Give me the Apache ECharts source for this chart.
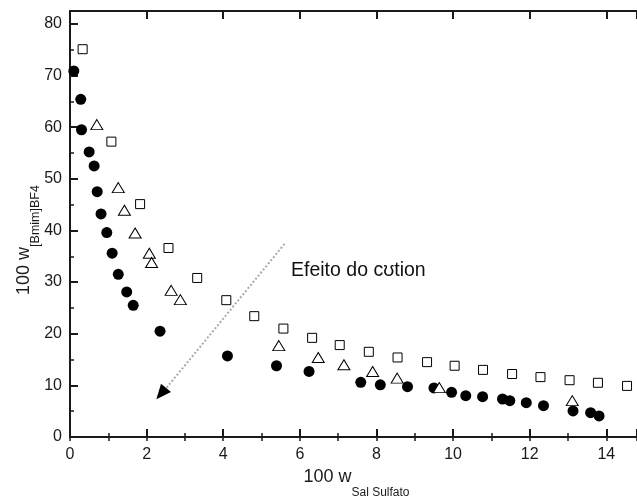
<!DOCTYPE html>
<html>
<head>
<meta charset="utf-8">
<script src="https://cdn.jsdelivr.net/npm/echarts@6/dist/echarts.min.js"></script>
<style>
  html, body { margin: 0; padding: 0; background: #fff; }
  #chart { width: 637px; height: 499px; }
</style>
</head>
<body>
<div id="chart"></div>
<script>
// filled circles
var circlesX = [0.10, 0.28, 0.30, 0.50, 0.63, 0.71, 0.81, 0.96, 1.10, 1.26, 1.48, 1.65, 2.35, 4.11, 5.39, 6.24,
                7.59, 8.10, 8.81, 9.50, 9.96, 10.33, 10.77, 11.29, 11.48, 11.91, 12.36, 13.13, 13.59, 13.81]
var circlesY = [70.9, 65.4, 59.5, 55.2, 52.5, 47.5, 43.2, 39.6, 35.6, 31.5, 28.1, 25.5, 20.5, 15.7, 13.8, 12.7,
                10.6, 10.1, 9.75, 9.5, 8.66, 8.0, 7.8, 7.36, 7.04, 6.65, 6.07, 5.04, 4.7, 4.07]
// open squares
var squaresX = [0.33, 1.08, 1.83, 2.57, 3.32, 4.08, 4.81, 5.57, 6.32, 7.04, 7.80, 8.55, 9.32, 10.04, 10.78,
                11.54, 12.28, 13.04, 13.78, 14.54]
var squaresY = [75.1, 57.2, 45.1, 36.6, 30.8, 26.5, 23.4, 21.0, 19.2, 17.8, 16.5, 15.4, 14.5, 13.8, 13.0,
                12.2, 11.6, 11.0, 10.5, 9.9]
// open triangles
var trianglesX = [0.70, 1.26, 1.42, 1.70, 2.07, 2.13, 2.64, 2.88, 5.45, 6.48, 7.15, 7.90, 8.54, 9.64, 13.11]
var trianglesY = [60.5, 48.3, 43.9, 39.5, 35.6, 33.8, 28.4, 26.6, 17.7, 15.4, 14.0, 12.7, 11.4, 9.56, 7.04]

var arrowFrom = [5.6, 37.4]
var arrowTo = [2.45, 8.9]
var arrowHead = [2.38, 8.4]
var noteText = 'Efeito do c\u028Ation'

function pairs(xs, ys) {
    return xs.map(function (x, i) { return [x, ys[i]] })
}

var font = 'Liberation Sans, Arial, sans-serif'
var ink = '#1a1a1a'

var dom = document.getElementById('chart')
var myChart = echarts.init(dom)

var baseX = {
    type: 'value',
    min: 0,
    max: 14.8,
    splitLine: { show: false }
}
var baseY = {
    type: 'value',
    min: 0,
    max: 82.5,
    splitLine: { show: false }
}

var option = {
    animation: false,
    backgroundColor: '#fff',
    grid: { left: 70, right: 0, top: 11, bottom: 62, containLabel: false, outerBoundsMode: 'none' },
    xAxis: [
        Object.assign({}, baseX, {
            position: 'bottom',
            interval: 2,
            axisLine: { show: true, onZero: false, lineStyle: { color: ink, width: 2 } },
            axisTick: { show: true, inside: true, length: 8, lineStyle: { color: ink, width: 2 } },
            axisLabel: {
                show: true, color: ink, fontSize: 16, fontFamily: font, margin: 10,
                formatter: function (v) { return v % 2 === 0 ? String(v) : '' }
            },
            name: '{m|100 w}{s|Sal Sulfato}',
            nameLocation: 'middle',
            nameGap: 31,
            nameMoveOverlap: false,
            nameTextStyle: {
                color: ink,
                padding: [0, 0, 0, 6],
                rich: {
                    m: { fontSize: 18, fontFamily: font, color: ink, lineHeight: 22, verticalAlign: 'top' },
                    s: { fontSize: 12, fontFamily: font, color: ink, lineHeight: 14, padding: [19, 0, 0, 0], verticalAlign: 'top' }
                }
            }
        }),
        Object.assign({}, baseX, {
            position: 'top',
            interval: 2,
            axisLine: { show: true, onZero: false, lineStyle: { color: ink, width: 2 } },
            axisTick: { show: true, inside: true, length: 8, lineStyle: { color: ink, width: 2 } },
            axisLabel: { show: false }
        }),
        Object.assign({}, baseX, {
            position: 'bottom',
            interval: 1,
            axisLine: { show: false },
            axisTick: { show: true, inside: true, length: 4, lineStyle: { color: ink, width: 1.5 } },
            axisLabel: { show: false }
        }),
        Object.assign({}, baseX, {
            position: 'top',
            interval: 1,
            axisLine: { show: false },
            axisTick: { show: true, inside: true, length: 4, lineStyle: { color: ink, width: 1.5 } },
            axisLabel: { show: false }
        })
    ],
    yAxis: [
        Object.assign({}, baseY, {
            position: 'left',
            interval: 10,
            axisLine: { show: true, onZero: false, lineStyle: { color: ink, width: 2 } },
            axisTick: { show: true, inside: true, length: 8, lineStyle: { color: ink, width: 2 } },
            axisLabel: {
                show: true, color: ink, fontSize: 16, fontFamily: font, margin: 8,
                formatter: function (v) { return v % 10 === 0 ? String(v) : '' }
            },
            name: '{m|100 w}{s|[Bmim]BF4}',
            nameLocation: 'middle',
            nameRotate: 90,
            nameGap: 33,
            nameMoveOverlap: false,
            nameTextStyle: {
                color: ink,
                padding: [0, 32, 0, 0],
                rich: {
                    m: { fontSize: 18, fontFamily: font, color: ink, lineHeight: 22, verticalAlign: 'top' },
                    s: { fontSize: 12.5, fontFamily: font, color: ink, lineHeight: 14, padding: [14, 0, 0, 0], verticalAlign: 'top' }
                }
            }
        }),
        Object.assign({}, baseY, {
            position: 'left',
            interval: 5,
            axisLine: { show: false },
            axisTick: { show: true, inside: true, length: 4, lineStyle: { color: ink, width: 1.5 } },
            axisLabel: { show: false }
        })
    ],
    graphic: [
        {
            type: 'text',
            x: 291,
            y: 271,
            style: { text: noteText, font: '19.5px ' + font, fill: '#111', verticalAlign: 'middle' }
        }
    ],
    series: [
        {
            type: 'scatter',
            name: 'squares',
            data: pairs(squaresX, squaresY),
            symbol: 'rect',
            symbolSize: 9,
            itemStyle: { color: '#fff', borderColor: '#000', borderWidth: 1, opacity: 1 },
            emphasis: { disabled: true }
        },
        {
            type: 'scatter',
            name: 'circles',
            data: pairs(circlesX, circlesY),
            symbol: 'circle',
            symbolSize: 11,
            itemStyle: { color: '#000', opacity: 1 },
            emphasis: { disabled: true },
            markLine: {
                silent: true,
                symbol: ['none', 'none'],
                label: { show: false },
                lineStyle: { type: 'dotted', color: '#aaa', width: 2 },
                data: [[{ coord: arrowFrom }, { coord: arrowTo }]]
            },
            markPoint: {
                silent: true,
                symbol: 'triangle',
                symbolSize: [13, 15],
                symbolRotate: 140,
                itemStyle: { color: '#000' },
                label: { show: false },
                data: [{ coord: arrowHead }]
            }
        },
        {
            type: 'scatter',
            name: 'triangles',
            data: pairs(trianglesX, trianglesY),
            symbol: 'triangle',
            symbolSize: [12, 10],
            itemStyle: { color: '#fff', borderColor: '#000', borderWidth: 1, opacity: 1 },
            emphasis: { disabled: true }
        }
    ]
}

myChart.setOption(option, true)
</script>
</body>
</html>
